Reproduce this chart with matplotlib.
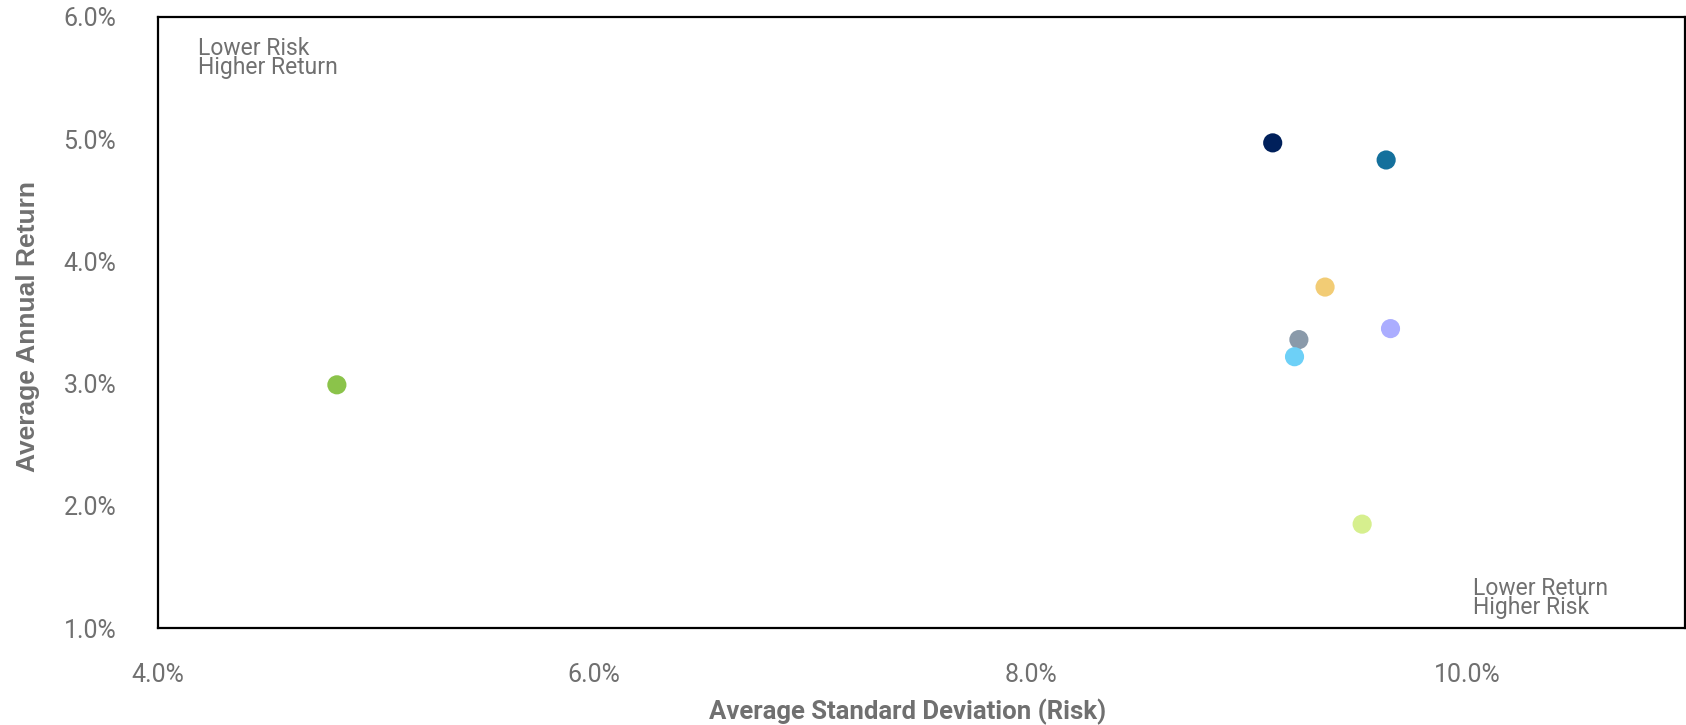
import matplotlib
matplotlib.use("Agg")
import matplotlib.pyplot as plt
from matplotlib.ticker import FuncFormatter, FixedLocator

# Data (risk %, return %)
names = ["Navy", "Teal", "Gold", "Lavender", "Slate", "Sky", "Lime", "Green"]
risk = [9.11, 9.63, 9.35, 9.65, 9.23, 9.21, 9.52, 4.82]
ret = [4.97, 4.83, 3.79, 3.45, 3.36, 3.22, 1.85, 2.99]
colors = ["#00205B", "#14709C", "#F2CC75", "#ABADFF", "#8A9AAA", "#6DD0F7", "#D6EF8E", "#8BC34A"]

x_ticks = [4, 6, 8, 10]
y_ticks = [1, 2, 3, 4, 5, 6]

text_color = "#707070"

fig = plt.figure(figsize=(16.86, 7.25), dpi=100)
ax = fig.add_axes([158/1686, 97/725, 1527/1686, 611/725])

ax.scatter(risk, ret, s=190, c=colors, edgecolors="none", zorder=3)

ax.set_xlim(4, 11)
ax.set_ylim(1, 6)
ax.xaxis.set_major_locator(FixedLocator(x_ticks))
ax.yaxis.set_major_locator(FixedLocator(y_ticks))
fmt = FuncFormatter(lambda v, p: f"{v:.1f}%")
ax.xaxis.set_major_formatter(fmt)
ax.yaxis.set_major_formatter(fmt)
ax.tick_params(axis="both", length=0, labelsize=18, labelcolor=text_color)
ax.tick_params(axis="x", pad=25)
ax.tick_params(axis="y", pad=30)
for lab in ax.get_xticklabels() + ax.get_yticklabels():
    lab.set_fontfamily("Roboto")
for sp in ax.spines.values():
    sp.set_linewidth(1.6)
    sp.set_color("black")

ax.text(0.026, 0.968, "Lower Risk\nHigher Return", transform=ax.transAxes,
        ha="left", va="top", fontsize=16.5, color=text_color, family="Roboto",
        linespacing=0.8)
ax.text(0.861, 0.014, "Lower Return\nHigher Risk", transform=ax.transAxes,
        ha="left", va="bottom", fontsize=16.5, color=text_color, family="Roboto",
        linespacing=0.8)

fig.text(908/1686, 13/725, "Average Standard Deviation (Risk)", ha="center", va="center",
         fontsize=18.5, fontweight="bold", color=text_color, family="Roboto")
fig.text(28/1686, (725-327)/725, "Average Annual Return", ha="center", va="center",
         rotation=90, fontsize=19, fontweight="bold", color=text_color, family="Liberation Sans")

fig.savefig("out.png", dpi=100)
